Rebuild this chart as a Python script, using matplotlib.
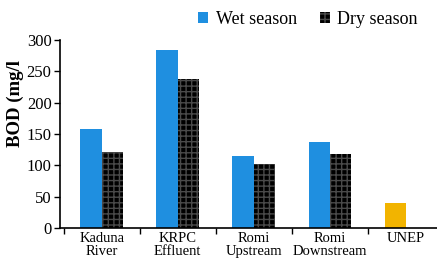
import matplotlib
matplotlib.use("Agg")
import matplotlib.pyplot as plt
import numpy as np

# Datos
sitios = ["Kaduna\nRiver", "KRPC\nEffluent", "Romi\nUpstream", "Romi\nDownstream", "UNEP"]
bod_lluvia = [158, 284, 115, 137]   # Wet season
bod_seca = [121, 238, 102, 118]     # Dry season
bod_unep = [40]                     # UNEP

plt.rcParams['font.family'] = ['Liberation Serif', 'DejaVu Serif']

fig = plt.figure(figsize=(4.37, 2.61), dpi=100)
ax = fig.add_axes([0.137, 0.126, 0.863, 0.721])

ancho = 0.28
x = np.arange(len(sitios))

ax.bar(x[:4] - ancho / 2, bod_lluvia, ancho, color='#1f8fe0', label='Wet season')
ax.bar(x[:4] + ancho / 2, bod_seca, ancho, color='black', edgecolor='#4a4a4a',
       hatch='+++', linewidth=0, label='Dry season')
ax.bar(x[4:] - ancho / 2, bod_unep, ancho, color='#f2b400')

ax.set_xlim(-0.55, 4.41)
ax.set_ylim(0, 300)
ax.set_yticks(np.arange(0, 301, 50))

# Marcas entre categorias, etiquetas en el centro
ax.set_xticks(np.arange(-0.5, 4.0, 1.0))
ax.set_xticklabels([])
ax.set_xticks(x, minor=True)
ax.set_xticklabels(sitios, minor=True, fontsize=10.5, linespacing=0.95)
ax.tick_params(axis='x', which='minor', length=0, pad=3)
ax.tick_params(axis='x', which='major', length=4, width=1, direction='out')
ax.tick_params(axis='y', length=4, width=1, labelsize=12, pad=2)

for s in ['top', 'right']:
    ax.spines[s].set_visible(False)
for s in ['left', 'bottom']:
    ax.spines[s].set_linewidth(1.2)

ax.set_ylabel('BOD (mg/l', fontsize=13.5, fontweight='bold')
ax.yaxis.set_label_coords(-0.095, 0.66)

fig.legend(loc='center', bbox_to_anchor=(0.705, 0.925), ncol=2, frameon=False,
           fontsize=13, handlelength=0.55, handleheight=0.55, handletextpad=0.4,
           columnspacing=1.3, borderpad=0)

fig.savefig('out.png', dpi=100)
